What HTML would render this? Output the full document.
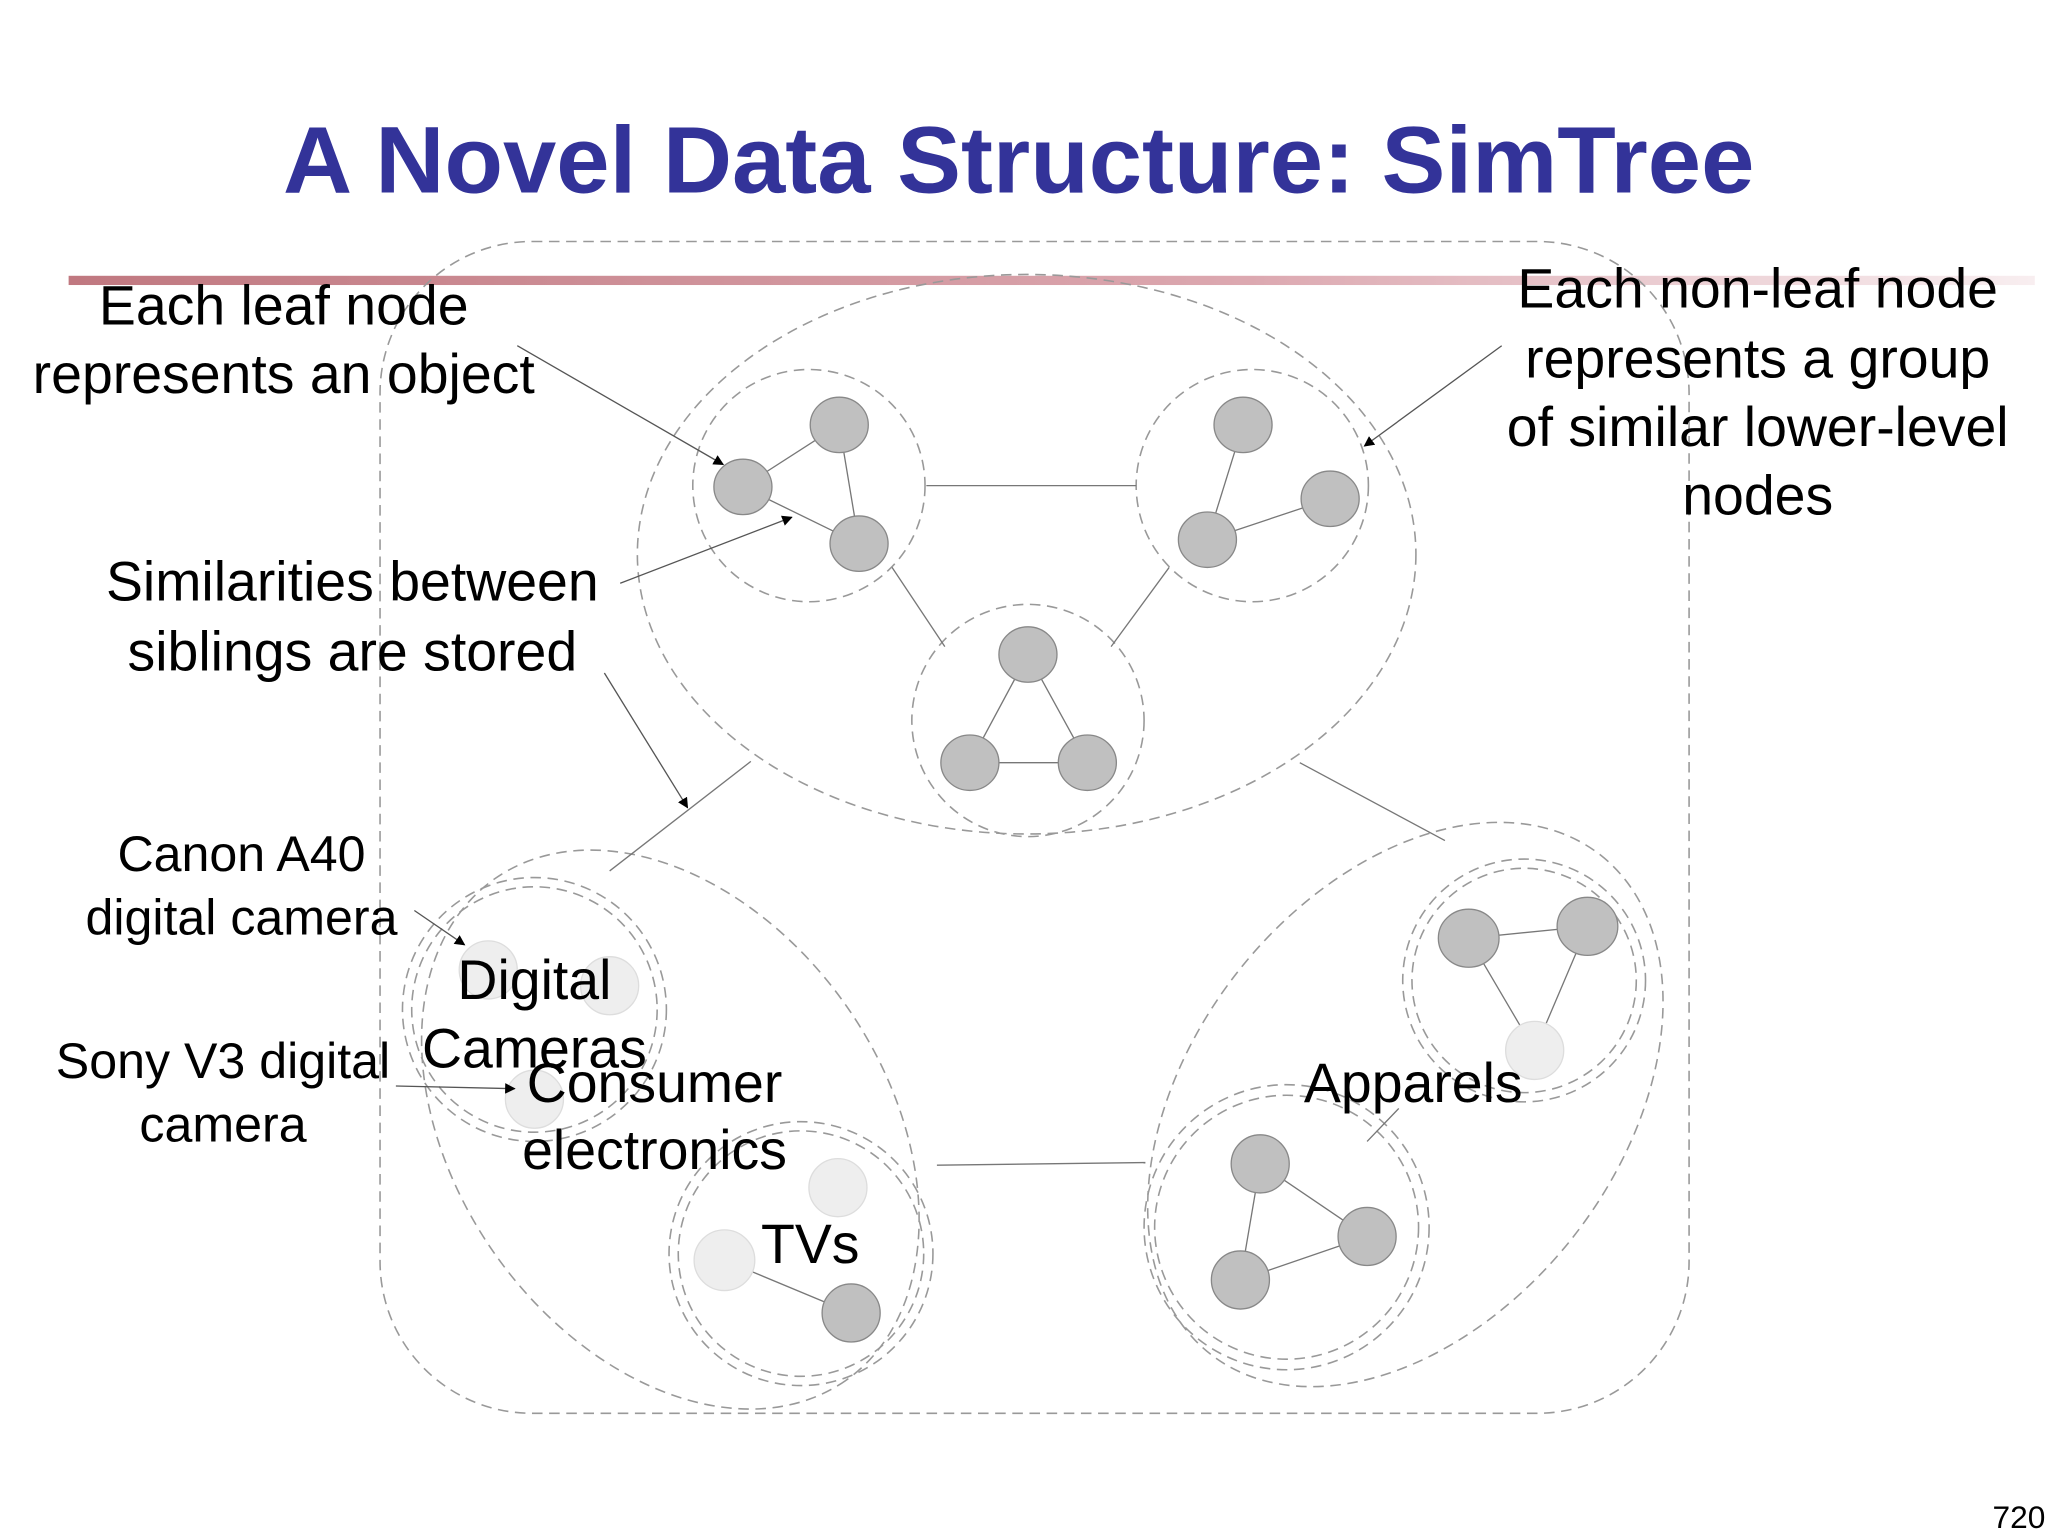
<!DOCTYPE html>
<html><head><meta charset="utf-8"><style>
html,body{margin:0;padding:0;background:#fff;}
svg{display:block}
text{font-family:"Liberation Sans",sans-serif;}
</style></head><body>
<svg width="2048" height="1536" viewBox="0 0 1552 1164" xmlns="http://www.w3.org/2000/svg">
<defs>
<linearGradient id="g" x1="0" x2="1"><stop offset="0" stop-color="#c07880"/><stop offset="0.6" stop-color="#dca8b0"/><stop offset="1" stop-color="#f8eef0"/></linearGradient>
<marker id="a" viewBox="0 0 10 10" refX="9" refY="5" markerWidth="8" markerHeight="8" orient="auto"><path d="M0,0L10,5L0,10z" fill="#000"/></marker>
</defs>
<text x="772" y="146" text-anchor="middle" font-size="72" font-weight="bold" fill="#333399" textLength="1115" lengthAdjust="spacingAndGlyphs">A Novel Data Structure: SimTree</text>
<rect x="52" y="209" width="1490" height="7" fill="url(#g)"/>
<g fill="none" stroke="#999" stroke-width="1.2" stroke-dasharray="8,5">
<rect x="288" y="183" width="992" height="888" rx="115"/>
<ellipse cx="778" cy="420" rx="295" ry="212"/>
<circle cx="613" cy="368" r="88"/><circle cx="949" cy="368" r="88"/><circle cx="779" cy="546" r="88"/>
<ellipse cx="508" cy="856" rx="232" ry="163" transform="rotate(55 508 856)"/>
<circle cx="405" cy="765" r="100"/><circle cx="405" cy="765" r="93"/>
<circle cx="607" cy="950" r="100"/><circle cx="607" cy="950" r="93"/>
<ellipse cx="1065" cy="837" rx="240" ry="162" transform="rotate(-52 1065 837)"/>
<circle cx="1155" cy="743" r="92"/><circle cx="1155" cy="743" r="85"/>
<circle cx="975" cy="930" r="108"/><circle cx="975" cy="930" r="100"/>
</g>
<g stroke="#777" stroke-width="1">
<line x1="702" y1="368" x2="861" y2="368"/><line x1="676" y1="430" x2="716" y2="490"/><line x1="886" y1="430" x2="842" y2="490"/>
<line x1="569" y1="577" x2="462" y2="660"/><line x1="985" y1="578" x2="1095" y2="637"/>
<line x1="710" y1="883" x2="868" y2="881"/>
<line x1="636" y1="322" x2="563" y2="369"/><line x1="636" y1="322" x2="651" y2="412"/><line x1="563" y1="369" x2="651" y2="412"/>
<line x1="942" y1="322" x2="915" y2="409"/><line x1="1008" y1="378" x2="915" y2="409"/>
<line x1="779" y1="496" x2="735" y2="578"/><line x1="779" y1="496" x2="824" y2="578"/><line x1="735" y1="578" x2="824" y2="578"/>
<line x1="1113" y1="711" x2="1203" y2="702"/><line x1="1113" y1="711" x2="1163" y2="796"/><line x1="1203" y1="702" x2="1163" y2="796"/>
<line x1="955" y1="882" x2="1036" y2="937"/><line x1="955" y1="882" x2="940" y2="970"/><line x1="1036" y1="937" x2="940" y2="970"/>
<line x1="549" y1="955" x2="645" y2="995"/><line x1="1036" y1="865" x2="1060" y2="840"/>
</g>
<g fill="#c0c0c0" stroke="#888" stroke-width="1">
<ellipse cx="636" cy="322" rx="22" ry="21"/><ellipse cx="563" cy="369" rx="22" ry="21"/><ellipse cx="651" cy="412" rx="22" ry="21"/>
<ellipse cx="942" cy="322" rx="22" ry="21"/><ellipse cx="1008" cy="378" rx="22" ry="21"/><ellipse cx="915" cy="409" rx="22" ry="21"/>
<ellipse cx="779" cy="496" rx="22" ry="21"/><ellipse cx="735" cy="578" rx="22" ry="21"/><ellipse cx="824" cy="578" rx="22" ry="21"/>
<ellipse cx="1113" cy="711" rx="23" ry="22"/><ellipse cx="1203" cy="702" rx="23" ry="22"/>
<ellipse cx="955" cy="882" rx="22" ry="22"/><ellipse cx="1036" cy="937" rx="22" ry="22"/><ellipse cx="940" cy="970" rx="22" ry="22"/>
<ellipse cx="645" cy="995" rx="22" ry="22"/>
</g>
<g fill="#eee" stroke="#ddd">
<circle cx="1163" cy="796" r="22"/><circle cx="370" cy="735" r="22"/><circle cx="462" cy="747" r="22"/><circle cx="405" cy="833" r="22"/>
<circle cx="635" cy="900" r="22"/><circle cx="549" cy="955" r="23"/>
</g>
<g stroke="#555" stroke-width="1" fill="none" marker-end="url(#a)">
<line x1="392" y1="262" x2="548" y2="352"/>
<line x1="470" y1="442" x2="600" y2="392"/>
<line x1="458" y1="510" x2="521" y2="612"/>
<line x1="1138" y1="262" x2="1034" y2="338"/>
<line x1="314" y1="690" x2="352" y2="716"/>
<line x1="300" y1="823" x2="390" y2="825"/>
</g>
<g font-size="42" fill="#000" text-anchor="middle">
<text x="215" y="246">Each leaf node</text><text x="215" y="298">represents an object</text>
<text x="267" y="455">Similarities between</text><text x="267" y="508">siblings are stored</text>
<text x="1332" y="233">Each non-leaf node</text><text x="1332" y="286">represents a group</text><text x="1332" y="338">of similar lower-level</text><text x="1332" y="390">nodes</text>
<text x="496" y="835">Consumer</text><text x="496" y="886">electronics</text>
<text x="405" y="757">Digital</text><text x="405" y="809">Cameras</text>
<text x="614" y="957">TVs</text>
<text x="1071" y="835">Apparels</text>
</g>
<g font-size="38" fill="#000" text-anchor="middle">
<text x="183" y="660">Canon A40</text><text x="183" y="708">digital camera</text>
<text x="169" y="817">Sony V3 digital</text><text x="169" y="865">camera</text>
</g>
<text x="1530" y="1158" font-size="24" text-anchor="middle" fill="#000">720</text>
</svg>
</body></html>
